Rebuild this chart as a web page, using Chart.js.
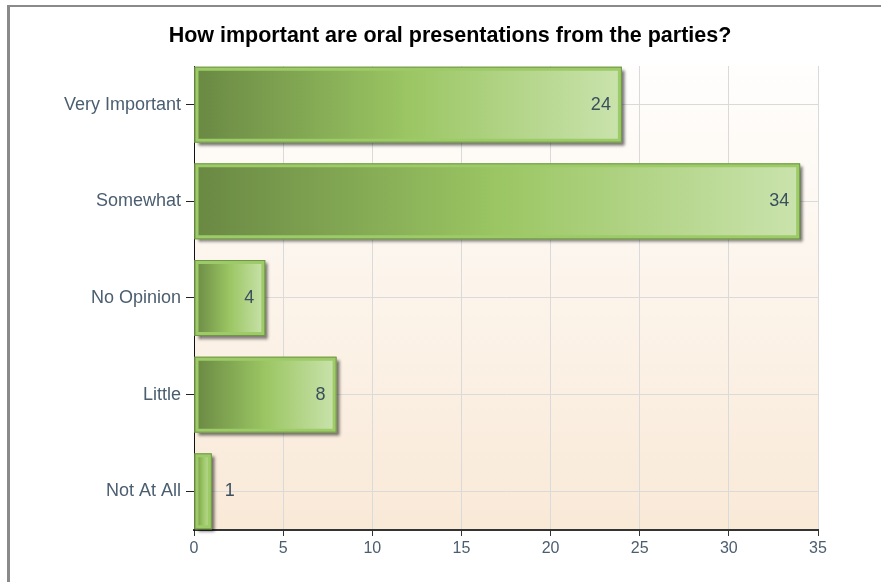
<!DOCTYPE html>
<html lang="en">
<head>
    <meta charset="UTF-8">
    <title>Oral presentations</title>
    <script src="https://cdn.jsdelivr.net/npm/chart.js"></script>
    <style>
        body {
            margin: 0;
            padding: 0;
            background-color: #ffffff;
            font-family: "Liberation Sans", Arial, sans-serif;
        }

        .frame {
            position: absolute;
            left: 7px;
            top: 5px;
            width: 1000px;
            height: 700px;
            border-left: 3px solid #8a8a8a;
            border-top: 2px solid #8a8a8a;
        }

        .wrap {
            position: absolute;
            left: 0;
            top: 0;
            width: 881px;
            height: 582px;
        }
    </style>
</head>
<body>
    <div class="frame"></div>
    <div class="wrap">
        <canvas id="barChart"></canvas>
    </div>

    <script>
        const categories = ['Very Important', 'Somewhat', 'No Opinion', 'Little', 'Not At All'];
        const counts = [24, 34, 4, 8, 1];
        const xMin = 0;
        const xMax = 35;
        const xStep = 5;

        const FONT = '"Liberation Sans", Arial, sans-serif';

        // plot area background: white fading to peach
        const plotBackground = {
            id: 'plotBackground',
            beforeDraw(chart) {
                const { ctx, chartArea: a } = chart;
                const g = ctx.createLinearGradient(0, a.top, 0, a.bottom);
                g.addColorStop(0, '#fffefd');
                g.addColorStop(1, '#f9e9d7');
                ctx.save();
                ctx.fillStyle = g;
                ctx.fillRect(a.left, a.top, a.right - a.left, a.bottom - a.top);
                ctx.restore();
            }
        };

        // title is centred over the area between x=82 and the plot's right edge
        const titleShift = {
            id: 'titleShift',
            afterLayout(chart) {
                if (chart.titleBlock) chart.titleBlock.left = 82;
            }
        };

        // drop shadow under each bar, plus a thin outline on top
        const barShadow = {
            id: 'barShadow',
            beforeDatasetDraw(chart, args) {
                const { ctx } = chart;
                ctx.save();
                ctx.shadowColor = 'rgba(0,0,0,0.55)';
                ctx.shadowBlur = 3;
                ctx.shadowOffsetX = 3;
                ctx.shadowOffsetY = 3;
                ctx.fillStyle = '#9dcb67';
                args.meta.data.forEach(el => {
                    const { x, y, base, height } = el.getProps(['x', 'y', 'base', 'height'], true);
                    ctx.fillRect(base, y - height / 2, x - base, height);
                });
                ctx.restore();
            },
            afterDatasetDraw(chart, args) {
                const { ctx } = chart;
                ctx.save();
                ctx.strokeStyle = 'rgba(95,125,60,0.7)';
                ctx.lineWidth = 1;
                args.meta.data.forEach(el => {
                    const { x, y, base, height } = el.getProps(['x', 'y', 'base', 'height'], true);
                    ctx.strokeRect(base + 0.5, y - height / 2 + 0.5, x - base - 1, height - 1);
                });
                ctx.restore();
            }
        };

        // count written at the end of each bar
        const valueLabels = {
            id: 'valueLabels',
            afterDatasetsDraw(chart) {
                const { ctx } = chart;
                const meta = chart.getDatasetMeta(0);
                ctx.save();
                ctx.font = '18px ' + FONT;
                ctx.fillStyle = '#3b4f5e';
                ctx.textBaseline = 'middle';
                meta.data.forEach((el, i) => {
                    const { x, y, base } = el.getProps(['x', 'y', 'base'], true);
                    if (x - base > 40) {
                        ctx.textAlign = 'right';
                        ctx.fillText(String(counts[i]), x - 11, y);
                    } else {
                        ctx.textAlign = 'left';
                        ctx.fillText(String(counts[i]), x + 13, y);
                    }
                });
                ctx.restore();
            }
        };

        function barFill(context) {
            const chart = context.chart;
            const xs = chart.scales.x;
            if (!xs || !chart.chartArea || !context.parsed) return '#9bc663';
            const x0 = xs.getPixelForValue(xMin);
            const x1 = xs.getPixelForValue(context.parsed.x);
            const g = chart.ctx.createLinearGradient(x0, 0, x1, 0);
            g.addColorStop(0, '#698843');
            g.addColorStop(0.5, '#9bc663');
            g.addColorStop(1, '#cae3ad');
            return g;
        }

        new Chart(document.getElementById('barChart'), {
            type: 'bar',
            data: {
                datasets: [{
                    data: counts.map((v, i) => ({ x: v, y: i })),
                    backgroundColor: barFill,
                    borderColor: '#9dcb67',
                    borderWidth: 4,
                    borderSkipped: false,
                    categoryPercentage: 1,
                    barPercentage: 0.786
                }]
            },
            options: {
                indexAxis: 'y',
                responsive: true,
                maintainAspectRatio: false,
                animation: false,
                layout: {
                    padding: { left: 20, right: 63, top: 0, bottom: 0 }
                },
                plugins: {
                    legend: { display: false },
                    tooltip: { enabled: false },
                    title: {
                        display: true,
                        text: 'How important are oral presentations from the parties?',
                        color: '#000000',
                        font: { family: FONT, size: 21.5, weight: 'bold', lineHeight: 1.2 },
                        padding: { top: 23, bottom: 17.2 }
                    }
                },
                scales: {
                    x: {
                        type: 'linear',
                        min: xMin,
                        max: xMax,
                        afterFit(scale) { scale.height = 52; },
                        ticks: {
                            stepSize: xStep,
                            color: '#4b5e70',
                            padding: 3,
                            font: { family: FONT, size: 16 }
                        },
                        grid: {
                            color: '#dadada',
                            tickColor: '#333333',
                            tickLength: 6
                        },
                        border: { color: '#333333', width: 2 }
                    },
                    y: {
                        type: 'linear',
                        reverse: true,
                        offset: false,
                        min: -0.4,
                        max: categories.length - 0.6,
                        afterFit(scale) { scale.width = 174; },
                        afterBuildTicks(scale) {
                            scale.ticks = categories.map((c, i) => ({ value: i }));
                        },
                        ticks: {
                            color: '#4b5e70',
                            padding: 5,
                            font: { family: FONT, size: 18 },
                            callback: v => categories[v]
                        },
                        grid: {
                            offset: false,
                            color: '#dadada',
                            tickColor: '#222222',
                            tickLength: 8
                        },
                        border: { color: '#111111', width: 1 }
                    }
                }
            },
            plugins: [plotBackground, titleShift, barShadow, valueLabels]
        });
    </script>
</body>
</html>
